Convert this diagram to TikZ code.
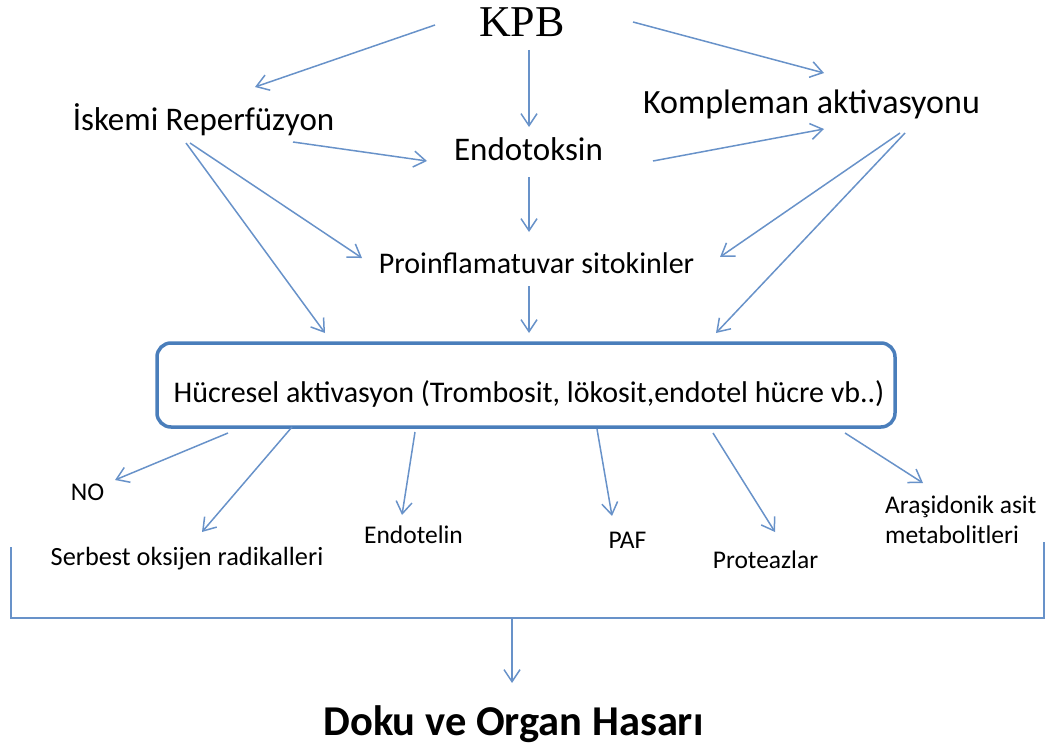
\documentclass[tikz,border=0pt]{standalone}
\usepackage{fontspec}
\setmainfont{Carlito}
\newfontfamily\kpbfont{Liberation Serif}
\usetikzlibrary{arrows.meta}
\definecolor{arrowblue}{RGB}{104,146,201}
\definecolor{boxblue}{RGB}{74,126,187}

\begin{document}
\begin{tikzpicture}
        [x=1pt, y=-1pt,
        lbl/.style={inner sep=0pt, anchor=base, font=\fontsize{33}{40}\selectfont},
        small/.style={inner sep=0pt, anchor=base, font=\fontsize{25.5}{30}\selectfont},
        cellbox/.style={draw=boxblue, line width=3.5pt, rounded corners=14pt,
                minimum width=738pt, minimum height=84pt, inner sep=0pt,
                text height=34pt, text depth=0pt, font=\fontsize{30}{36}\selectfont},
        edge/.style={arrowblue, line width=1.5pt, -{Straight Barb[length=12pt,width=16pt]}},
        bracket/.style={arrowblue, line width=1.5pt}]

        \useasboundingbox (0,0) rectangle (1048,752);

        % Upper part
        \node[lbl, font=\kpbfont\fontsize{44}{50}\selectfont] (kpb) at (522,37) {KPB};
        \node[lbl] (isk) at (203.5,130) {İskemi Reperfüzyon};
        \node[lbl] (endo) at (528.5,160) {Endotoksin};
        \node[lbl, font=\fontsize{34}{40}\selectfont] (komp) at (811.5,113) {Kompleman aktivasyonu};
        \node[lbl, font=\fontsize{30}{36}\selectfont] (proinf) at (536.5,273) {Proinflamatuvar sitokinler};

        % The box in the middle
        \node[cellbox] (box) at (526,385) {\hspace{6pt}Hücresel aktivasyon (Trombosit, lökosit,endotel hücre vb..)};

        % Products of the activation
        \node[small] (no) at (87.5,500) {NO};
        \node[small, font=\fontsize{26.3}{30}\selectfont] (sor) at (187,565) {Serbest oksijen radikalleri};
        \node[small] (endotelin) at (413.5,543) {Endotelin};
        \node[small] (paf) at (627.5,548) {PAF};
        \node[small] (prot) at (765.5,568) {Proteazlar};
        \node[small, anchor=base west, align=left] (aras) at (885,543) {Araşidonik asit\\metabolitleri};

        % Result
        \node[lbl, font=\bfseries\fontsize{42.5}{50}\selectfont] (doku) at (513.5,735) {Doku ve Organ Hasarı};

        % arrows from KPB
        \draw[edge] ([shift={(-87,-12)}]kpb.base) -- ([shift={(51.5,-43)}]isk.base);
        \draw[edge] ([shift={(7,13)}]kpb.base) -- ([shift={(0.5,-33)}]endo.base);
        \draw[edge] ([shift={(111,-15)}]kpb.base) -- ([shift={(12.5,-40)}]komp.base);

        % second row
        \draw[edge] ([shift={(89.5,12)}]isk.base) -- ([shift={(-101.5,1)}]endo.base);
        \draw[edge] ([shift={(124.5,1)}]endo.base) -- ([shift={(12.5,16)}]komp.base);
        \draw[edge] ([shift={(0.5,17)}]endo.base) -- ([shift={(-7.5,-41)}]proinf.base);
        \draw[edge] ([shift={(-13.5,13)}]isk.base) -- ([shift={(-174.5,-15)}]proinf.base);
        \draw[edge] ([shift={(-17.5,13)}]isk.base) -- ([shift={(-201,-52)}]box.center);
        \draw[edge] ([shift={(88.5,20)}]komp.base) -- ([shift={(183.5,-16)}]proinf.base);
        \draw[edge] ([shift={(93.5,20)}]komp.base) -- ([shift={(190,-52)}]box.center);
        \draw[edge] ([shift={(-7.5,13)}]proinf.base) -- ([shift={(3,-52)}]box.center);

        % arrows out of the box
        \draw[edge] ([shift={(-298,48)}]box.center) -- ([shift={(27.5,-20)}]no.base);
        \draw[edge] ([shift={(-234,42)}]box.center) -- ([shift={(15,-33)}]sor.base);
        \draw[edge] ([shift={(-111,47)}]box.center) -- ([shift={(-11.5,-28)}]endotelin.base);
        \draw[edge] ([shift={(71,44)}]box.center) -- ([shift={(-15.5,-32)}]paf.base);
        \draw[edge] ([shift={(187,48)}]box.center) -- ([shift={(9.5,-36)}]prot.base);
        \draw[edge] ([shift={(319,48)}]box.center) -- ([shift={(38,-60)}]aras.base west);

        % bracket and the last arrow
        \draw[bracket] (11,547) |- (1044,618) -- (1044,542);
        \coordinate (brk) at (512,618);
        \draw[edge] (brk) -- ([shift={(-1.5,-52)}]doku.base);

\end{tikzpicture}
\end{document}
